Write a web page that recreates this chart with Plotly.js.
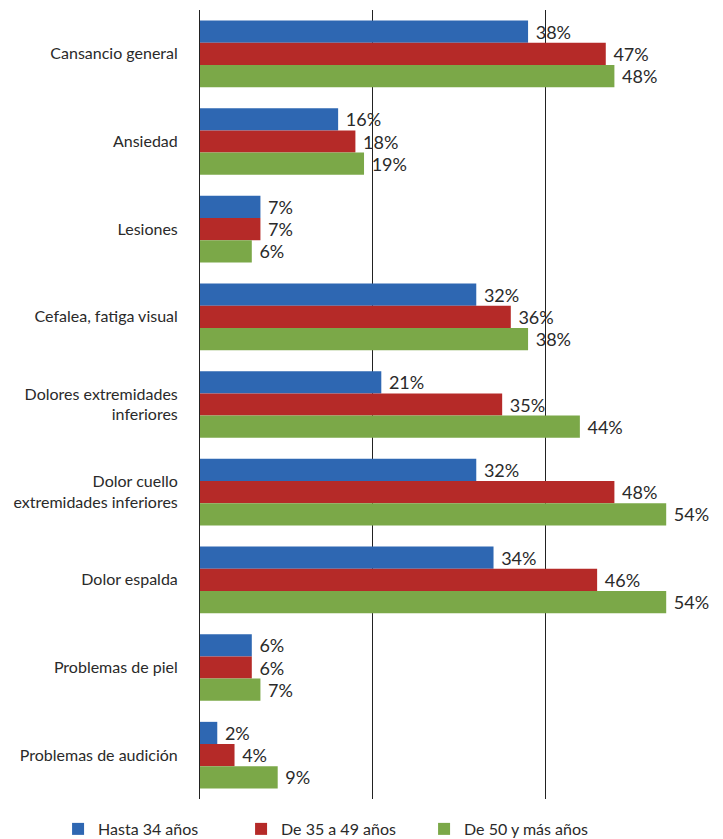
<!DOCTYPE html>
<html>
<head>
<meta charset="utf-8">
<script src="https://cdn.plot.ly/plotly-3.0.1.min.js"></script>
<style>
html,body{margin:0;padding:0;background:#fff;}
#chart{width:723px;height:839px;}
</style>
</head>
<body>
<div id="chart"></div>
<script>
const categories = [
  "Cansancio general",
  "Ansiedad",
  "Lesiones",
  "Cefalea, fatiga visual",
  "Dolores extremidades<br>inferiores",
  "Dolor cuello<br>extremidades inferiores",
  "Dolor espalda",
  "Problemas de piel",
  "Problemas de audición"
];
const seriesNames = ["Hasta 34 años", "De 35 a 49 años", "De 50 y más años"];
const hasta34 = [38, 16, 7, 32, 21, 32, 34, 6, 2];
const de35a49 = [47, 18, 7, 36, 35, 48, 46, 6, 4];
const de50mas = [48, 19, 6, 38, 44, 54, 54, 7, 9];
const colors = ["#2e67b2", "#b52a28", "#7ba848"];

const FONT = "Lato, 'Open Sans', sans-serif";
const values = [hasta34, de35a49, de50mas];
const traces = values.map((v, i) => ({
  type: "bar",
  orientation: "h",
  name: seriesNames[i],
  y: categories,
  x: v,
  marker: {color: colors[i], line: {width: 0}},
  text: v.map(d => "\u00a0" + d + "%"),
  textposition: "outside",
  textfont: {family: FONT, size: 18, color: "#2a2a2a"},
  cliponaxis: false,
  hoverinfo: "none"
}));

const layout = {
  width: 723,
  height: 839,
  margin: {l: 200, r: 5, t: 10, b: 40, autoexpand: false},
  paper_bgcolor: "#fff",
  plot_bgcolor: "#fff",
  barmode: "group",
  bargap: 0.24,
  bargroupgap: 0,
  font: {family: FONT, color: "#2a2a2a", size: 16},
  xaxis: {
    range: [0, 60],
    tickvals: [0, 20, 40, 60],
    showticklabels: false,
    showgrid: true,
    gridcolor: "#222",
    gridwidth: 1,
    zeroline: false,
    showline: false,
    ticks: ""
  },
  yaxis: {
    autorange: "reversed",
    showline: true,
    linecolor: "#222",
    linewidth: 1,
    ticks: "",
    ticklabelstandoff: 18,
    tickfont: {family: FONT, size: 16, color: "#2a2a2a"}
  },
  showlegend: true,
  legend: {
    orientation: "h",
    x: -0.274,
    xanchor: "left",
    y: -0.038,
    yanchor: "middle",
    font: {family: FONT, size: 16, color: "#2a2a2a"},
    traceorder: "normal",
    itemwidth: 30,
    entrywidth: 138
  }
};

Plotly.newPlot("chart", traces, layout, {displayModeBar: false, staticPlot: true});
</script>
</body>
</html>
